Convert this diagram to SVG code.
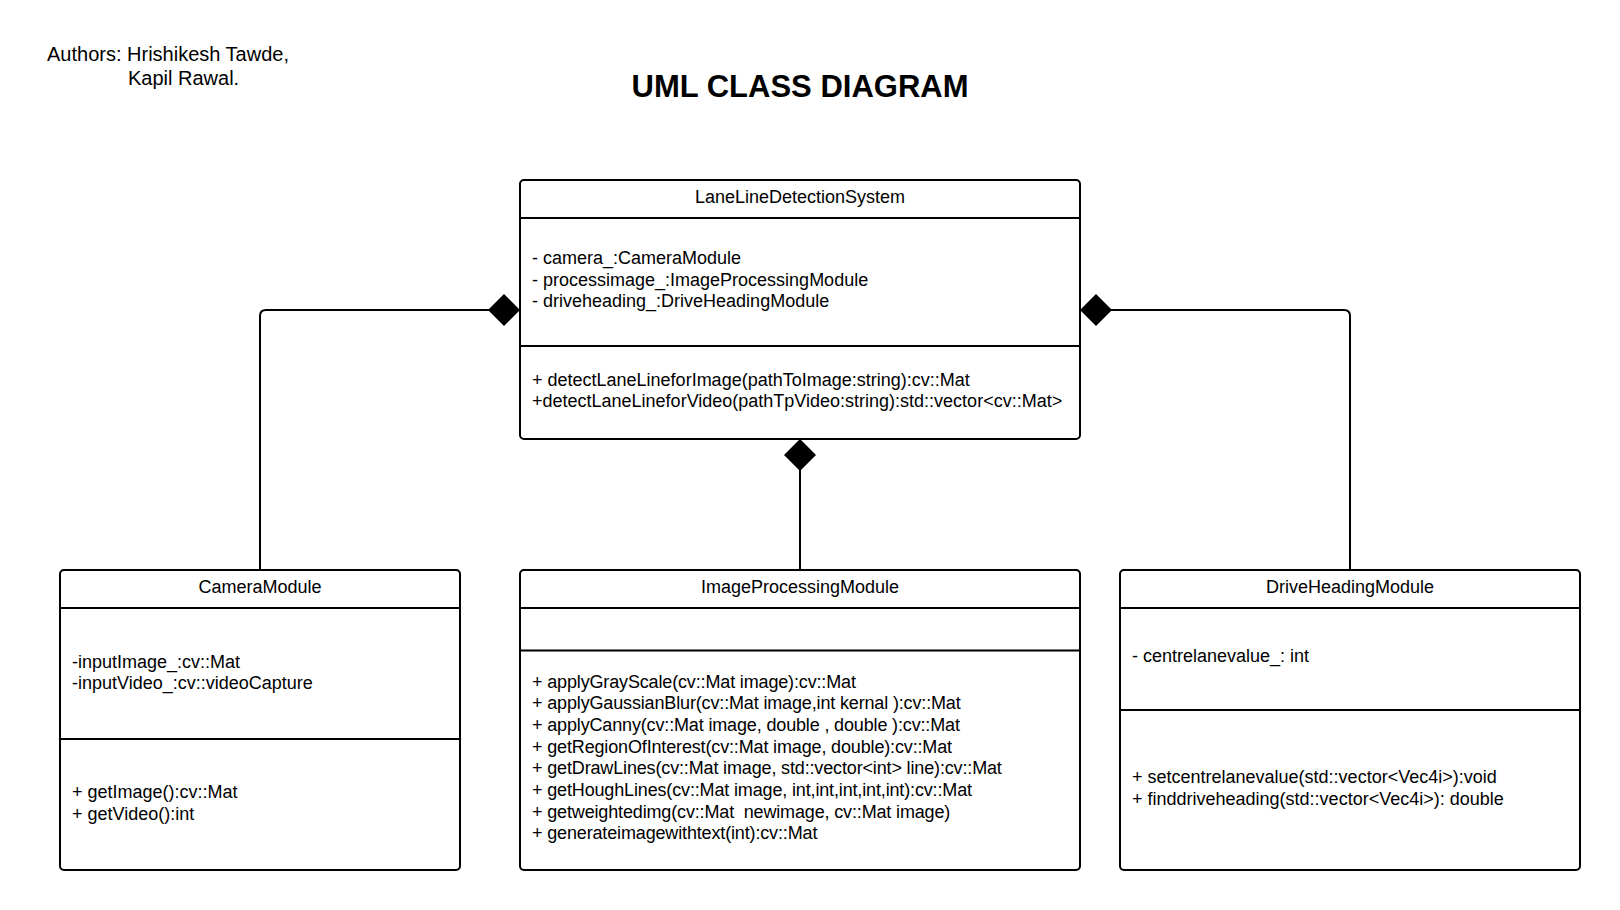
<svg xmlns="http://www.w3.org/2000/svg" width="1620" height="910" viewBox="0 0 1620 910">
<style>
  .box { fill: #ffffff; stroke: #000000; stroke-width: 2; }
  .div { stroke: #000000; stroke-width: 2; }
  .conn { fill: none; stroke: #000000; stroke-width: 2; }
  text { font-family: "Liberation Sans", Arial, sans-serif; fill: #000000; }
  .t { font-size: 18px; }
  .tc { font-size: 18px; letter-spacing: -0.15px; }
  .h { font-size: 18px; text-anchor: middle; }
  .auth { font-size: 20px; }
  .title { font-size: 31px; font-weight: bold; text-anchor: middle; }
</style>
<defs>
  <marker id="diamond" markerUnits="userSpaceOnUse" markerWidth="34" markerHeight="34" viewBox="-1 -17 34 34" refX="0" refY="0" orient="auto" overflow="visible">
    <path d="M0,0 L16,-16 L32,0 L16,16 Z" fill="#000000"/>
  </marker>
</defs>
<rect x="0" y="0" width="1620" height="910" fill="#ffffff"/>

<g id="authors">
  <text class="auth" x="47" y="60.5">Authors: Hrishikesh Tawde,</text>
  <text class="auth" x="128" y="85">Kapil Rawal.</text>
</g>
<g id="title">
  <text class="title" x="800" y="97">UML CLASS DIAGRAM</text>
</g>

<g id="connectors">
  <path class="conn" d="M520,310 H266 Q260,310 260,316 V570" marker-start="url(#diamond)"/>
  <path class="conn" d="M1080,310 H1344 Q1350,310 1350,316 V570" marker-start="url(#diamond)"/>
  <path class="conn" d="M800,439 V570" marker-start="url(#diamond)"/>
</g>

<g id="LaneLineDetectionSystem">
  <rect class="box" x="520" y="180" width="560" height="259" rx="4"/>
  <line class="div" x1="520" y1="218" x2="1080" y2="218"/>
  <line class="div" x1="520" y1="346" x2="1080" y2="346"/>
  <text class="h" x="800" y="203">LaneLineDetectionSystem</text>
  <text class="t" x="532" y="264">- camera_:CameraModule</text>
  <text class="t" x="532" y="285.7">- processimage_:ImageProcessingModule</text>
  <text class="t" x="532" y="307.3">- driveheading_:DriveHeadingModule</text>
  <text class="t" x="532" y="385.7">+ detectLaneLineforImage(pathToImage:string):cv::Mat</text>
  <text class="t" x="532" y="407.3">+detectLaneLineforVideo(pathTpVideo:string):std::vector&lt;cv::Mat&gt;</text>
</g>

<g id="CameraModule">
  <rect class="box" x="60" y="570" width="400" height="300" rx="4"/>
  <line class="div" x1="60" y1="608" x2="460" y2="608"/>
  <line class="div" x1="60" y1="739" x2="460" y2="739"/>
  <text class="h" x="260" y="592.5">CameraModule</text>
  <text class="t" x="72" y="667.5">-inputImage_:cv::Mat</text>
  <text class="t" x="72" y="689">-inputVideo_:cv::videoCapture</text>
  <text class="t" x="72" y="798">+ getImage():cv::Mat</text>
  <text class="t" x="72" y="819.5">+ getVideo():int</text>
</g>

<g id="ImageProcessingModule">
  <rect class="box" x="520" y="570" width="560" height="300" rx="4"/>
  <line class="div" x1="520" y1="608" x2="1080" y2="608"/>
  <line class="div" x1="520" y1="650.5" x2="1080" y2="650.5"/>
  <text class="h" x="800" y="592.7">ImageProcessingModule</text>
  <text class="tc" x="532" y="687.7">+ applyGrayScale(cv::Mat image):cv::Mat</text>
  <text class="tc" x="532" y="709.4">+ applyGaussianBlur(cv::Mat image,int kernal ):cv::Mat</text>
  <text class="tc" x="532" y="731">+ applyCanny(cv::Mat image, double , double ):cv::Mat</text>
  <text class="tc" x="532" y="752.7">+ getRegionOfInterest(cv::Mat image, double):cv::Mat</text>
  <text class="tc" x="532" y="774.4">+ getDrawLines(cv::Mat image, std::vector&lt;int&gt; line):cv::Mat</text>
  <text class="tc" x="532" y="796">+ getHoughLines(cv::Mat image, int,int,int,int,int):cv::Mat</text>
  <text class="tc" x="532" y="817.7" xml:space="preserve" style="white-space:pre">+ getweightedimg(cv::Mat  newimage, cv::Mat image)</text>
  <text class="tc" x="532" y="839.4">+ generateimagewithtext(int):cv::Mat</text>
</g>

<g id="DriveHeadingModule">
  <rect class="box" x="1120" y="570" width="460" height="300" rx="4"/>
  <line class="div" x1="1120" y1="608" x2="1580" y2="608"/>
  <line class="div" x1="1120" y1="710" x2="1580" y2="710"/>
  <text class="h" x="1350" y="592.7">DriveHeadingModule</text>
  <text class="t" x="1132" y="662">- centrelanevalue_: int</text>
  <text class="t" x="1132" y="783">+ setcentrelanevalue(std::vector&lt;Vec4i&gt;):void</text>
  <text class="t" x="1132" y="804.7">+ finddriveheading(std::vector&lt;Vec4i&gt;): double</text>
</g>
</svg>
